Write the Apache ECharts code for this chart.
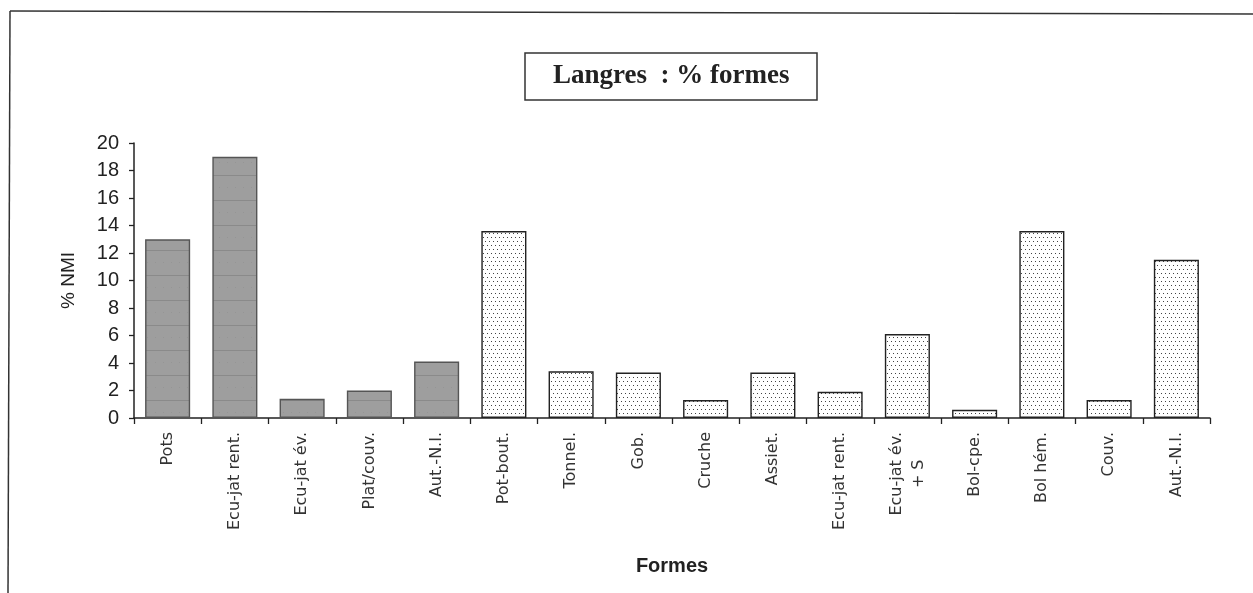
<!DOCTYPE html>
<html>
<head>
<meta charset="utf-8">
<script src="https://cdn.jsdelivr.net/npm/echarts@6/dist/echarts.min.js"></script>
<style>
html,body{margin:0;padding:0;background:#fff;}
#chart{width:1253px;height:593px;}
</style>
</head>
<body>
<div id="chart"></div>
<script>
// ---- data ----
var categories = ['Pots','Ecu-jat rent.','Ecu-jat év.','Plat/couv.','Aut.-N.I.','Pot-bout.','Tonnel.','Gob.','Cruche','Assiet.','Ecu-jat rent.','Ecu-jat év.\n+ S','Bol-cpe.','Bol hém.','Couv.','Aut.-N.I.'];
var values = [13.0, 19.0, 1.4, 2.0, 4.1, 13.6, 3.4, 3.3, 1.3, 3.3, 1.9, 6.1, 0.6, 13.6, 1.3, 11.5];
var groups = ['grey','grey','grey','grey','grey','dot','dot','dot','dot','dot','dot','dot','dot','dot','dot','dot'];
var yTicks = [0,2,4,6,8,10,12,14,16,18,20];
var titleText = 'Langres  : % formes';
var xName = 'Formes';
var yName = '% NMI';

// ---- patterns ----
function greyPattern(){
  var c = document.createElement('canvas'); c.width = 8; c.height = 25;
  var g = c.getContext('2d');
  g.fillStyle = '#9e9e9e'; g.fillRect(0,0,8,25);
  g.fillStyle = '#8a8a8a'; g.fillRect(0,0,8,1);
  g.fillStyle = '#959595'; g.fillRect(3,12,1,1);
  return c;
}
function dotPattern(){
  var c = document.createElement('canvas'); c.width = 8; c.height = 8;
  var g = c.getContext('2d');
  g.fillStyle = '#ffffff'; g.fillRect(0,0,8,8);
  g.fillStyle = '#444444';
  g.fillRect(1,1,1,1); g.fillRect(5,1,1,1);
  g.fillRect(3,5,1,1); g.fillRect(7,5,1,1);
  return c;
}
var fills = {
  grey: {image: greyPattern(), repeat: 'repeat'},
  dot: {image: dotPattern(), repeat: 'repeat'}
};
var borders = {grey: '#555555', dot: '#222222'};

var seriesData = values.map(function(v, i){
  return {value: v, itemStyle: {color: fills[groups[i]], borderColor: borders[groups[i]], borderWidth: 1.4}};
});

var chart = echarts.init(document.getElementById('chart'), null, {renderer: 'canvas'});
chart.setOption({
  backgroundColor: '#ffffff',
  animation: false,
  title: {
    text: titleText,
    left: 525, top: 53,
    padding: [10, 28],
    borderColor: '#333', borderWidth: 1.5,
    textStyle: {fontFamily: "'Liberation Serif', 'Times New Roman', serif", fontWeight: 'bold', fontSize: 27, color: '#222'}
  },
  grid: {left: 134, right: 43, top: 143, bottom: 175, containLabel: false},
  xAxis: {
    type: 'category',
    data: categories,
    name: xName,
    nameLocation: 'middle',
    nameGap: 138,
    nameTextStyle: {fontFamily: "'Liberation Sans', Arial, sans-serif", fontWeight: 'bold', fontSize: 20, color: '#222'},
    axisLine: {lineStyle: {color: '#222', width: 1.5}},
    axisTick: {show: true, alignWithLabel: false, length: 6, lineStyle: {color: '#222', width: 1.3}},
    axisLabel: {
      rotate: 90, margin: 14, interval: 0,
      fontFamily: "'DejaVu Sans', sans-serif", fontSize: 16, color: '#333',
      formatter: function(v){ return v.split('\n').map(function(s){ return '{a|' + s + '}'; }).join('\n'); },
      rich: {a: {align: 'center', fontFamily: "'DejaVu Sans', sans-serif", fontSize: 16, color: '#333', lineHeight: 22}}
    },
    splitLine: {show: false}
  },
  yAxis: {
    type: 'value',
    min: yTicks[0], max: yTicks[yTicks.length - 1], interval: yTicks[1] - yTicks[0],
    name: yName,
    nameLocation: 'middle',
    nameGap: 56,
    nameTextStyle: {fontFamily: "'Liberation Sans', Arial, sans-serif", fontSize: 19, color: '#222'},
    axisLine: {show: true, lineStyle: {color: '#222', width: 1.5}},
    axisTick: {show: true, length: 5, lineStyle: {color: '#222', width: 1.3}},
    axisLabel: {margin: 15, fontFamily: "'Liberation Sans', Arial, sans-serif", fontSize: 20, color: '#222'},
    splitLine: {show: false}
  },
  series: [{
    type: 'bar',
    data: seriesData,
    barCategoryGap: '33%'
  }],
  graphic: [
    {type: 'line', shape: {x1: 10, y1: 11, x2: 1253, y2: 14}, style: {stroke: '#333', lineWidth: 1.5}, silent: true},
    {type: 'line', shape: {x1: 10, y1: 11, x2: 8, y2: 593}, style: {stroke: '#333', lineWidth: 1.5}, silent: true}
  ]
});
</script>
</body>
</html>
